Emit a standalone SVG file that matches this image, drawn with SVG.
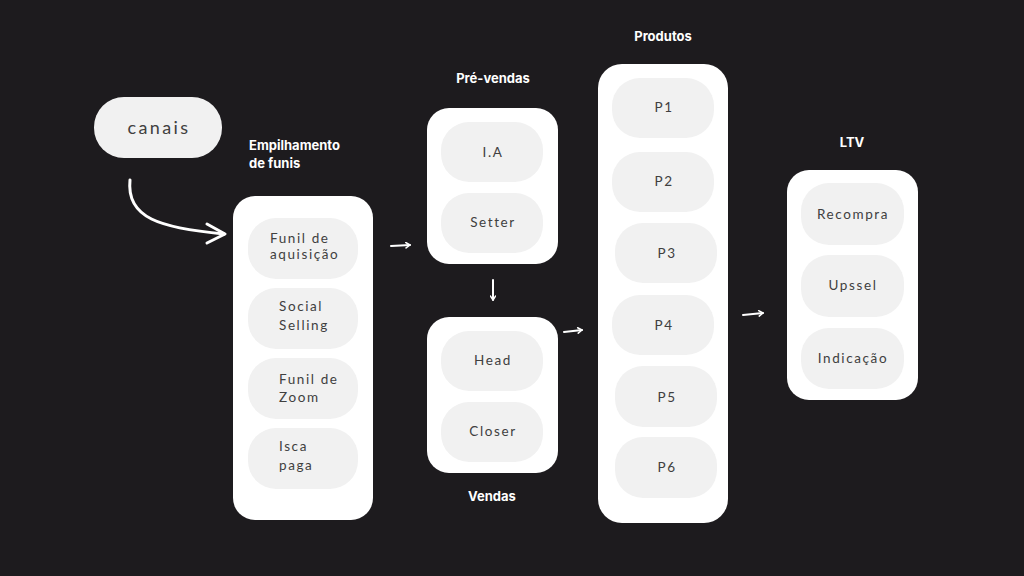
<svg xmlns="http://www.w3.org/2000/svg" width="1024" height="576" viewBox="0 0 1024 576">
<defs>
<style>
.bg{fill:#1d1b1e}
.box{fill:#ffffff}
.pill{fill:#f1f1f1}
.t{font-family:Lato,"Open Sans","Liberation Sans",sans-serif;font-size:13.5px;fill:#404040;letter-spacing:1.6px}
.tc{text-anchor:middle}
.h{font-family:Inter,"Open Sans","Liberation Sans",sans-serif;font-size:13px;font-weight:700;fill:#ffffff}
.hc{text-anchor:middle}
.a{fill:none;stroke:#ffffff;stroke-width:2;stroke-linecap:round;stroke-linejoin:round}
</style>
<marker id="ah" viewBox="0 0 10 10" refX="9" refY="5" markerWidth="3.4" markerHeight="3.4" orient="auto" markerUnits="strokeWidth">
<path d="M3,1 L9,5 L3,9" fill="none" stroke="#ffffff" stroke-width="2.2" stroke-linecap="round" stroke-linejoin="round"/>
</marker>
</defs>
<rect class="bg" x="0" y="0" width="1024" height="576"/>

<g id="canais">
<rect class="pill" x="94" y="97" width="128" height="61" rx="30"/>
<text class="t tc" x="159" y="134" style="font-size:18px;letter-spacing:2.4px">canais</text>
</g>

<g id="empilhamento">
<text class="h" x="249" y="150">Empilhamento</text>
<text class="h" x="249" y="168">de funis</text>
<rect class="box" x="233" y="196" width="140" height="324" rx="22"/>
<rect class="pill" x="248" y="218" width="110" height="61" rx="28"/>
<text class="t" x="270" y="243">Funil de</text>
<text class="t" x="270" y="259">aquisição</text>
<rect class="pill" x="248" y="288" width="110" height="61" rx="28"/>
<text class="t" x="279" y="311">Social</text>
<text class="t" x="279" y="330">Selling</text>
<rect class="pill" x="248" y="358" width="110" height="61" rx="28"/>
<text class="t" x="279" y="384">Funil de</text>
<text class="t" x="279" y="402">Zoom</text>
<rect class="pill" x="248" y="428" width="110" height="61" rx="28"/>
<text class="t" x="279" y="451">Isca</text>
<text class="t" x="279" y="470">paga</text>
</g>

<g id="prevendas">
<text class="h hc" x="493" y="83">Pré-vendas</text>
<rect class="box" x="427" y="108" width="131" height="156" rx="22"/>
<rect class="pill" x="441" y="122" width="102" height="60" rx="28"/>
<text class="t tc" x="493" y="157">I.A</text>
<rect class="pill" x="441" y="193" width="102" height="60" rx="28"/>
<text class="t tc" x="493" y="227">Setter</text>
</g>

<g id="vendas">
<rect class="box" x="427" y="317" width="131" height="156" rx="22"/>
<rect class="pill" x="441" y="331" width="102" height="60" rx="28"/>
<text class="t tc" x="493" y="365">Head</text>
<rect class="pill" x="441" y="402" width="102" height="60" rx="28"/>
<text class="t tc" x="493" y="436">Closer</text>
<text class="h hc" x="492" y="501">Vendas</text>
</g>

<g id="produtos">
<text class="h hc" x="663" y="41">Produtos</text>
<rect class="box" x="598" y="64" width="130" height="459" rx="24"/>
<rect class="pill" x="612" y="78" width="102" height="60" rx="28"/>
<text class="t tc" x="664" y="112">P1</text>
<rect class="pill" x="612" y="152" width="102" height="60" rx="28"/>
<text class="t tc" x="664" y="186">P2</text>
<rect class="pill" x="615" y="223" width="102" height="60" rx="28"/>
<text class="t tc" x="667" y="258">P3</text>
<rect class="pill" x="612" y="295" width="102" height="60" rx="28"/>
<text class="t tc" x="664" y="330">P4</text>
<rect class="pill" x="615" y="366" width="102" height="61" rx="28"/>
<text class="t tc" x="667" y="402">P5</text>
<rect class="pill" x="615" y="437" width="102" height="61" rx="28"/>
<text class="t tc" x="667" y="472">P6</text>
</g>

<g id="ltv">
<text class="h hc" x="852" y="147">LTV</text>
<rect class="box" x="787" y="170" width="131" height="230" rx="22"/>
<rect class="pill" x="801" y="183" width="103" height="62" rx="28"/>
<text class="t tc" x="853" y="219">Recompra</text>
<rect class="pill" x="801" y="255" width="103" height="62" rx="28"/>
<text class="t tc" x="853" y="290">Upssel</text>
<rect class="pill" x="801" y="328" width="103" height="61" rx="28"/>
<text class="t tc" x="853" y="363">Indicação</text>
</g>

<g id="connectors">
<path class="a" d="M130,180 C126,218 160,228 224,234" style="stroke-width:3"/>
<path class="a" d="M207,224 L225,234 L207,243" style="stroke-width:3"/>
<path class="a" d="M391,246 L410,245" marker-end="url(#ah)"/>
<path class="a" d="M493,280 L493,300" marker-end="url(#ah)"/>
<path class="a" d="M564,332 L582,330" marker-end="url(#ah)"/>
<path class="a" d="M743,315 L763,313" marker-end="url(#ah)"/>
</g>
</svg>
